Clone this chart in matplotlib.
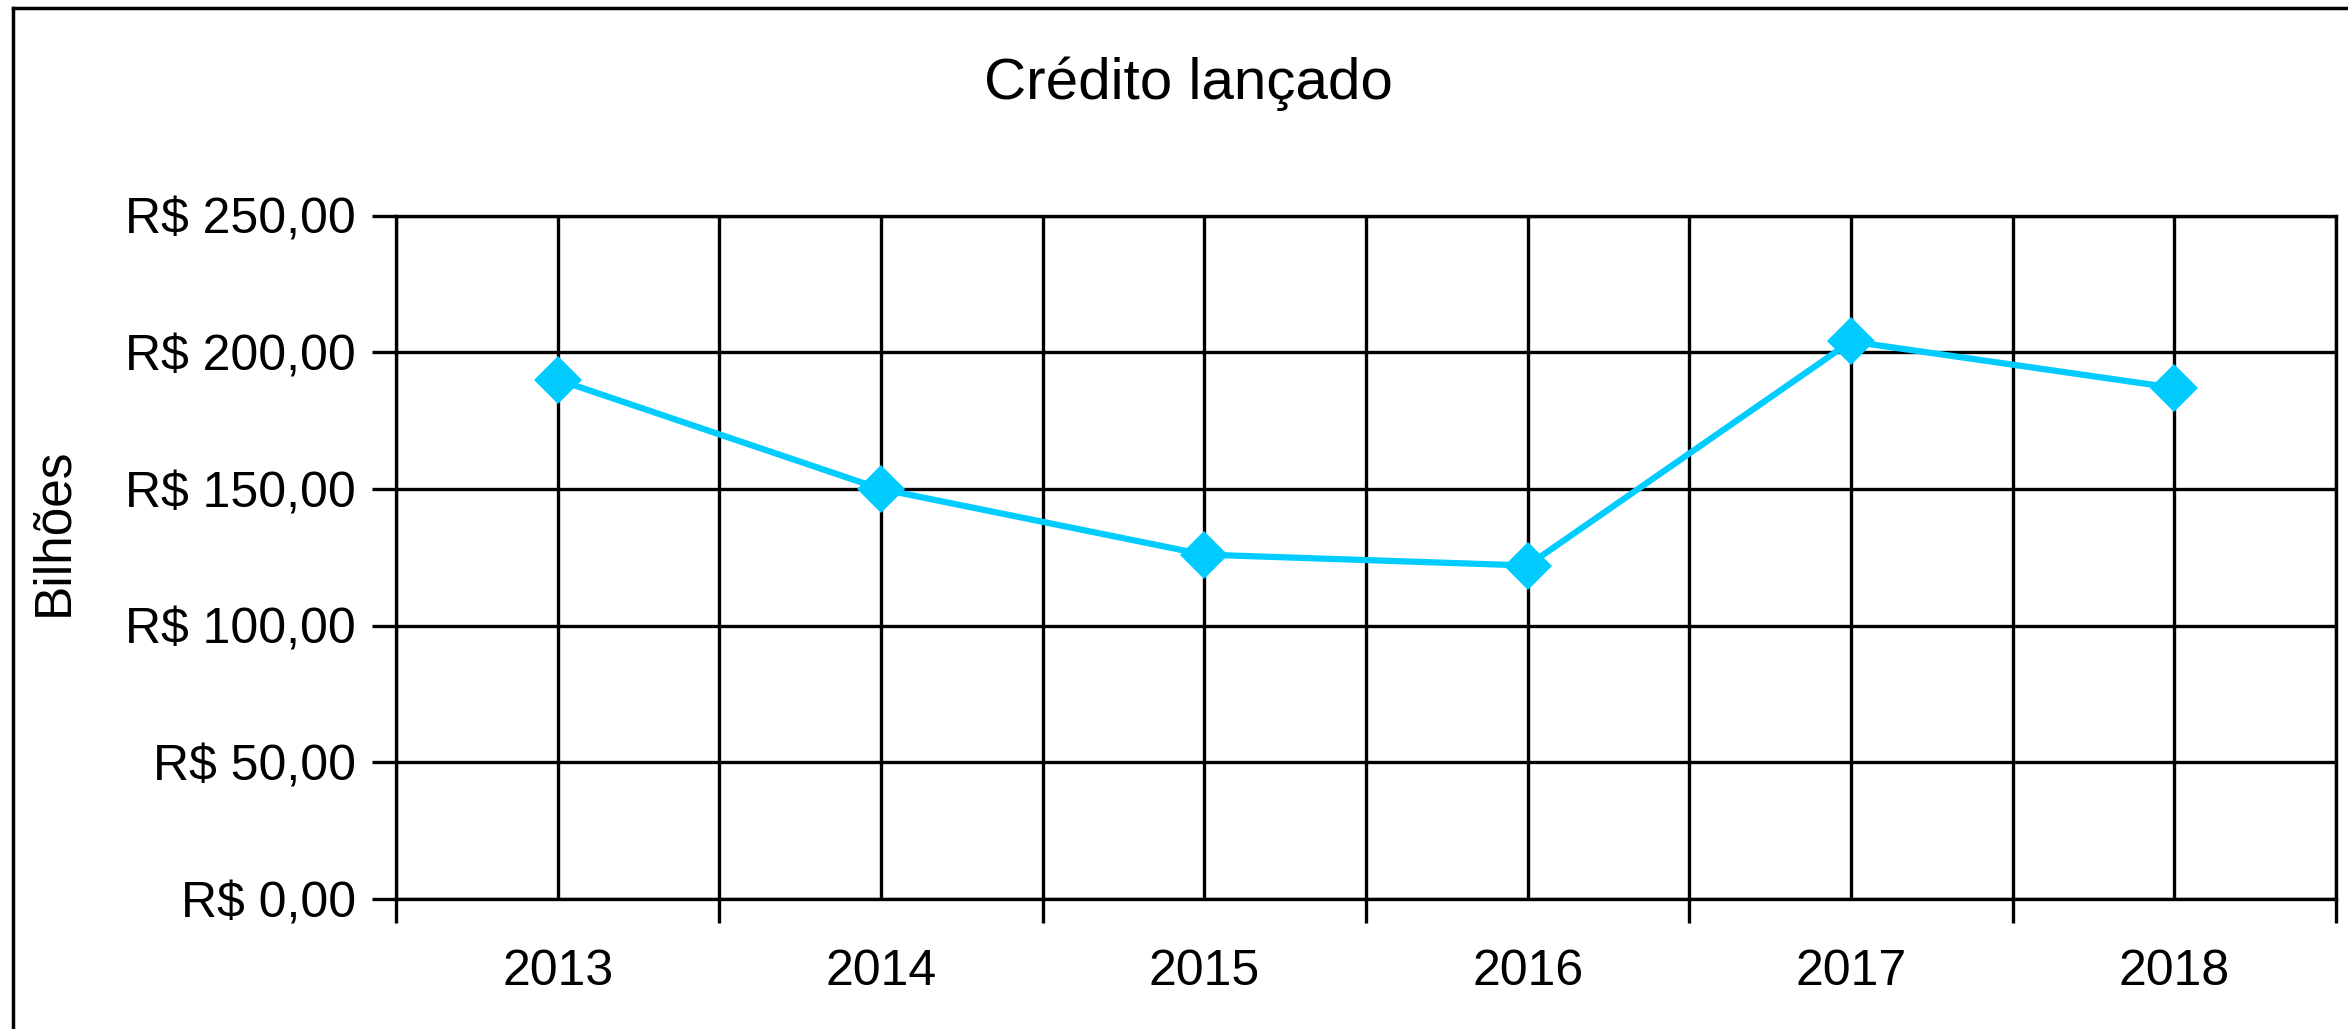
import matplotlib.pyplot as plt
from matplotlib.lines import Line2D
from matplotlib.ticker import FixedLocator, FuncFormatter

# Data (values in R$ billions)
years = ['2013', '2014', '2015', '2016', '2017', '2018']
credito = [190, 150, 126, 122, 204, 187]
y_ticks = [0, 50, 100, 150, 200, 250]

plt.rcParams['font.family'] = ['Liberation Sans', 'DejaVu Sans']

W, H, DPI = 2348, 1029, 100
fig = plt.figure(figsize=(W / DPI, H / DPI), dpi=DPI)
ax = fig.add_axes([396 / W, 1 - 899 / H, (2336 - 396) / W, (899 - 215.7) / H])

x = list(range(len(years)))
ax.plot(x, credito, color='#00CCFF', lw=4.5, marker='D', markersize=24,
        markeredgewidth=0, zorder=3, clip_on=False)

# axes limits and ticks
ax.set_xlim(-0.5, len(years) - 0.5)
ax.set_ylim(y_ticks[0], y_ticks[-1])
ax.xaxis.set_major_locator(FixedLocator([i - 0.5 for i in range(len(years) + 1)]))
ax.xaxis.set_minor_locator(FixedLocator(x))
ax.xaxis.set_major_formatter(FuncFormatter(lambda v, p: ''))
ax.xaxis.set_minor_formatter(FuncFormatter(lambda v, p: years[int(round(v))]))
ax.set_yticks(y_ticks)


def brl(v, pos):
    s = f'{v:,.2f}'.replace(',', 'X').replace('.', ',').replace('X', '.')
    return f'R$ {s}'


ax.yaxis.set_major_formatter(FuncFormatter(brl))

ax.tick_params(axis='x', which='major', direction='out', length=17, width=2.4, color='black')
ax.tick_params(axis='x', which='minor', length=0, labelsize=36, pad=36)
ax.tick_params(axis='y', which='major', direction='out', length=17, width=2.4,
               labelsize=36, pad=12)

ax.grid(True, which='both', axis='x', color='black', lw=2.4)
ax.grid(True, which='major', axis='y', color='black', lw=2.4)
ax.set_axisbelow(True)
for sp in ax.spines.values():
    sp.set_color('black')
    sp.set_linewidth(2.4)

fig.text(54 / W, 1 - 532 / H, 'Bilhões', fontsize=37, rotation=90,
         ha='center', va='center')
fig.text(1188 / W, 1 - 84 / H, 'Crédito lançado', fontsize=42, ha='center', va='center')

# chart area border (right/bottom edges fall outside the picture)
fig.add_artist(Line2D([13 / W, 13 / W], [-0.05, 1 - 8 / H], color='black', lw=2.5,
                      transform=fig.transFigure))
fig.add_artist(Line2D([13 / W, 1.05], [1 - 8 / H, 1 - 8 / H], color='black', lw=2.5,
                      transform=fig.transFigure))

fig.savefig('out.png', dpi=DPI)
